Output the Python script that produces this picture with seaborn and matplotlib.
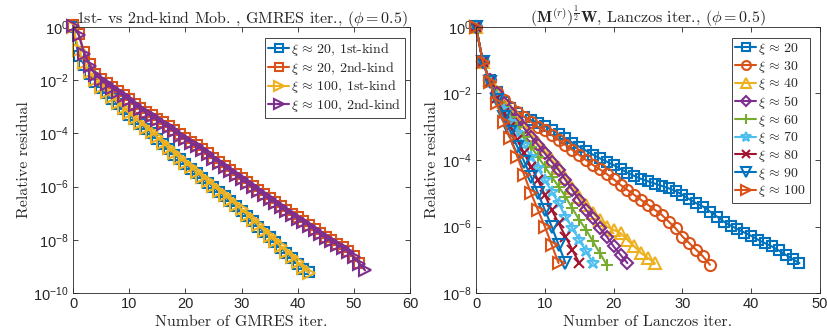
import numpy as np
import pandas as pd
import matplotlib
matplotlib.use("Agg")
import matplotlib.pyplot as plt
from matplotlib.ticker import FixedLocator, FuncFormatter, NullLocator
import seaborn as sns

# ---------------- data (log10 of relative residual) ----------------
# Left panel: GMRES iterations, 1st- vs 2nd-kind mobility
gm_xi20_1st = [0.0, -1.1, -1.42, -1.75, -2.05, -2.3, -2.5, -2.7, -2.9, -3.1, -3.3,
               -3.47, -3.65, -3.83, -4.0, -4.2, -4.4, -4.6, -4.8, -4.97, -5.15,
               -5.33, -5.5, -5.67, -5.85, -6.02, -6.2, -6.37, -6.55, -6.73, -6.91,
               -7.1, -7.3, -7.5, -7.7, -7.9, -8.1, -8.3, -8.5, -8.7, -8.9, -9.08, -9.22]
gm_xi20_2nd = [0.08, -0.25, -0.95, -1.4, -1.75, -1.94, -2.09, -2.26, -2.41, -2.56,
               -2.72, -2.88, -3.04, -3.18, -3.32, -3.46, -3.59, -3.73, -3.88, -4.04,
               -4.18, -4.31, -4.44, -4.58, -4.74, -4.91, -5.06, -5.21, -5.36, -5.51,
               -5.68, -5.84, -5.99, -6.14, -6.29, -6.44, -6.58, -6.73, -6.88, -7.02,
               -7.16, -7.29, -7.43, -7.58, -7.74, -7.88, -8.01, -8.14, -8.26, -8.41,
               -8.61, -8.86]
gm_xi100_1st = [0.0, -0.85, -1.35, -1.7, -2.0, -2.25, -2.45, -2.65, -2.85, -3.05, -3.25,
                -3.42, -3.6, -3.78, -3.95, -4.15, -4.35, -4.55, -4.75, -4.92, -5.1,
                -5.28, -5.45, -5.62, -5.8, -5.97, -6.15, -6.32, -6.5, -6.68, -6.86,
                -7.05, -7.25, -7.45, -7.65, -7.85, -8.05, -8.25, -8.45, -8.65, -8.85,
                -9.05, -9.25]
gm_xi100_2nd = [0.05, -0.3, -1.0, -1.45, -1.8, -1.98, -2.13, -2.3, -2.45, -2.6, -2.76,
                -2.92, -3.08, -3.22, -3.36, -3.5, -3.63, -3.77, -3.92, -4.08, -4.22,
                -4.35, -4.48, -4.62, -4.78, -4.95, -5.1, -5.25, -5.4, -5.55, -5.72,
                -5.88, -6.03, -6.18, -6.33, -6.48, -6.62, -6.77, -6.92, -7.06, -7.2,
                -7.33, -7.47, -7.62, -7.78, -7.92, -8.05, -8.18, -8.3, -8.45, -8.65,
                -8.9, -9.15]
gm_labels = [r"$\xi\, \approx\, 20$, 1st-kind", r"$\xi\, \approx\, 20$, 2nd-kind",
             r"$\xi\, \approx\, 100$, 1st-kind", r"$\xi\, \approx\, 100$, 2nd-kind"]

# Right panel: Lanczos iterations
lz_xi20 = [0.0, -1.05, -1.6, -1.95, -2.25, -2.45, -2.6, -2.7, -2.8, -2.88, -2.98,
           -3.1, -3.22, -3.35, -3.48, -3.6, -3.72, -3.84, -3.95, -4.05, -4.15, -4.27,
           -4.38, -4.48, -4.57, -4.64, -4.71, -4.78, -4.85, -4.93, -5.05, -5.18, -5.3,
           -5.4, -5.55, -5.7, -5.85, -5.97, -6.08, -6.18, -6.28, -6.4, -6.5, -6.6,
           -6.72, -6.85, -6.98, -7.1]
lz_xi30 = [0.0, -1.05, -1.6, -1.95, -2.2, -2.4, -2.55, -2.7, -2.85, -3.0, -3.1, -3.25,
           -3.4, -3.55, -3.7, -3.85, -4.0, -4.15, -4.28, -4.42, -4.58, -4.75, -4.9, -5.05,
           -5.2, -5.35, -5.5, -5.65, -5.85, -6.05, -6.3, -6.5, -6.7, -6.9, -7.15]
lz_xi40 = [0.0, -1.05, -1.6, -1.95, -2.25, -2.5, -2.75, -3.0, -3.25, -3.5, -3.75, -4.0,
           -4.25, -4.55, -4.85, -5.1, -5.35, -5.6, -5.8, -6.0, -6.1, -6.2, -6.4, -6.6,
           -6.8, -6.95, -7.1]
lz_xi50 = [0.0, -1.05, -1.6, -2.0, -2.3, -2.55, -2.8, -3.05, -3.3, -3.55, -3.8, -4.05,
           -4.3, -4.6, -4.9, -5.2, -5.5, -5.75, -6.05, -6.3, -6.6, -6.85, -7.1]
lz_xi60 = [0.0, -1.05, -1.65, -2.05, -2.4, -2.7, -3.0, -3.3, -3.6, -3.9, -4.2, -4.5,
           -4.8, -5.1, -5.45, -5.8, -6.1, -6.45, -6.8, -7.15]
lz_xi70 = [0.0, -1.05, -1.65, -2.1, -2.5, -2.85, -3.2, -3.55, -3.9, -4.25, -4.6, -4.95,
           -5.3, -5.7, -6.05, -6.4, -6.75, -7.1]
lz_xi80 = [0.0, -1.05, -1.65, -2.15, -2.6, -3.0, -3.4, -3.8, -4.2, -4.6, -5.05, -5.5,
           -5.9, -6.3, -6.7, -7.1]
lz_xi90 = [0.0, -1.05, -1.65, -2.2, -2.7, -3.15, -3.6, -4.05, -4.5, -5.0, -5.5, -6.0,
           -6.55, -7.1]
lz_xi100 = [0.0, -1.05, -1.65, -2.3, -2.85, -3.35, -3.9, -4.45, -5.0, -5.5, -6.0, -6.55,
            -7.1]
lz_labels = [r"$\xi\, \approx\, 20$", r"$\xi\, \approx\, 30$", r"$\xi\, \approx\, 40$",
             r"$\xi\, \approx\, 50$", r"$\xi\, \approx\, 60$", r"$\xi\, \approx\, 70$",
             r"$\xi\, \approx\, 80$", r"$\xi\, \approx\, 90$", r"$\xi\, \approx\, 100$"]

# ---------------- styling ----------------
sns.set_theme(style="ticks")
plt.rcParams["font.family"] = ["Liberation Sans", "DejaVu Sans"]
plt.rcParams["mathtext.fontset"] = "cm"
plt.rcParams["axes.unicode_minus"] = False

C = ["#0072BD", "#D95319", "#EDB120", "#7E2F8E", "#77AC30", "#4DBEEE", "#A2142F"]
SERIF = "cmr10"

fig = plt.figure(figsize=(8.28, 3.33), dpi=100)
axL = fig.add_axes([0.0882, 0.120, 0.407, 0.799])
axR = fig.add_axes([0.5749, 0.120, 0.4155, 0.799])


def draw(ax, series, labels, colors, markers, msizes):
    for vals, lab, col, mk, ms in zip(series, labels, colors, markers, msizes):
        df = pd.DataFrame({"it": np.arange(len(vals)), "res": 10.0 ** np.asarray(vals)})
        sns.lineplot(data=df, x="it", y="res", ax=ax, color=col, lw=1.5,
                     marker=mk, markersize=ms, markerfacecolor="none",
                     markeredgecolor=col, markeredgewidth=1.5, label=lab,
                     clip_on=False)


draw(axL, [gm_xi20_1st, gm_xi20_2nd, gm_xi100_1st, gm_xi100_2nd], gm_labels,
     [C[0], C[1], C[2], C[3]], ["s", "s", ">", ">"], [7.5, 7.5, 9, 9])
draw(axR, [lz_xi20, lz_xi30, lz_xi40, lz_xi50, lz_xi60, lz_xi70, lz_xi80, lz_xi90, lz_xi100],
     lz_labels, [C[0], C[1], C[2], C[3], C[4], C[5], C[6], C[0], C[1]],
     ["s", "o", "^", "D", "+", "*", "x", "v", ">"], [7.5, 8, 9, 6.5, 9, 9, 7.5, 9, 9])

fmt = FuncFormatter(lambda v, p: r"$\mathregular{10^{%d}}$" % int(round(np.log10(v))))

for ax, xmax, ymin, xt, ytl in [
        (axL, 60, 1e-10, [0, 10, 20, 30, 40, 50, 60], [0, -2, -4, -6, -8, -10]),
        (axR, 50, 1e-8, [0, 10, 20, 30, 40, 50], [0, -2, -4, -6, -8])]:
    ax.set_yscale("log")
    ax.set_xlim(0, xmax)
    ax.set_ylim(ymin, 1)
    ax.xaxis.set_major_locator(FixedLocator(xt))
    ax.yaxis.set_major_locator(FixedLocator([10.0 ** e for e in ytl]))
    ax.yaxis.set_minor_locator(NullLocator())
    ax.yaxis.set_major_formatter(fmt)
    ax.tick_params(direction="in", top=True, right=True, length=3.5, width=0.6,
                   labelsize=10.5, colors="#262626", pad=3)
    ax.tick_params(which="minor", left=False, right=False)
    for s in ax.spines.values():
        s.set_visible(True)
        s.set_linewidth(0.6)
        s.set_color("#262626")
    ax.set_ylabel("Relative residual", fontfamily=SERIF, fontsize=11.5, labelpad=2)

axL.set_xlabel("Number of GMRES iter.", fontfamily=SERIF, fontsize=11.5, labelpad=3)
axR.set_xlabel("Number of Lanczos iter.", fontfamily=SERIF, fontsize=11.5, labelpad=3)
axL.set_title(r"1st- vs 2nd-kind Mob. , GMRES iter., $(\phi = 0.5)$",
              fontfamily=SERIF, fontsize=11.5, pad=3)
axR.set_title(r"$(\mathbf{M}^{(r)})^{\frac{1}{2}}\mathbf{W}$, Lanczos iter., $(\phi = 0.5)$",
              fontfamily=SERIF, fontsize=11.5, pad=3)

for ax, anchor in [(axL, (0.985, 0.96)), (axR, (0.97, 0.96))]:
    leg = ax.legend(loc="upper right", bbox_to_anchor=anchor, fancybox=False,
                    framealpha=1, edgecolor="#262626", handlelength=1.5,
                    handletextpad=0.15, labelspacing=0.12, borderpad=0.25,
                    borderaxespad=0.0, markerscale=0.8,
                    prop={"family": SERIF, "size": 10})
    leg.get_frame().set_linewidth(0.6)

fig.savefig("out.png", dpi=100)
